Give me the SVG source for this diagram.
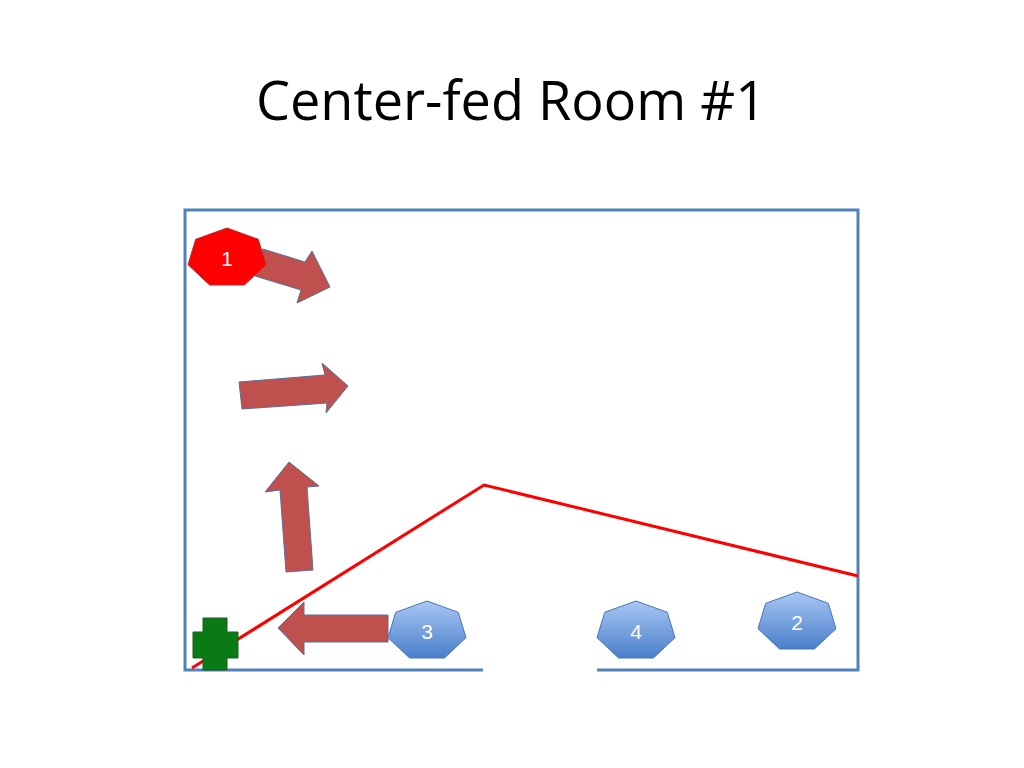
<svg xmlns="http://www.w3.org/2000/svg" width="1024" height="768" viewBox="0 0 1024 768">
<defs>
<linearGradient id="blueG" x1="0" y1="0" x2="0" y2="1">
<stop offset="0" stop-color="#a9c7f2"/>
<stop offset="1" stop-color="#4a7fcc"/>
</linearGradient>
<polygon id="hept" points="0,-30 31.3,-18.7 39,6.7 17.4,27 -17.4,27 -39,6.7 -31.3,-18.7"/>
</defs>
<style>
.wall{fill:none;stroke:#4f81bd;stroke-width:3}
.arrow{fill:#c0504d;stroke:#5a6f9a;stroke-width:1;stroke-linejoin:miter}
.bnode{fill:url(#blueG);stroke:#4a74b4;stroke-width:1}
.lbl{font-family:"Liberation Sans",Arial,sans-serif;font-size:21px;fill:#ffffff;text-anchor:middle}
.title{font-family:"Open Sans","Liberation Sans",sans-serif;font-size:54px;fill:#000000;text-anchor:middle}
</style>
<rect width="1024" height="768" fill="#ffffff"/>
<text class="title" x="511" y="120">Center-fed Room #1</text>
<g id="room">
<polyline class="wall" points="483,670 185,670 185,210 858,210 858,670 597,670"/>
</g>
<g id="connectors">
<polyline points="192,668 484,485 858,576" fill="none" stroke="#ff0000" stroke-width="3"/>
<polygon class="arrow" points="263,249 305,262 312,251 330,287 297,303 301,290 255,276"/>
<polygon class="arrow" points="239,382 325,375 322,363 348,386 326,413 327,403 242,409"/>
<polygon class="arrow" points="289,462 319,486 307,487 313,570 286,572 280,490 265,492"/>
<polygon class="arrow" points="278,628 304,602 304,615 388,615 388,642 304,642 304,655"/>
</g>
<g id="node1">
<use href="#hept" transform="translate(227,258)" fill="#ff0000" stroke="#b03030" stroke-width="1"/>
<text class="lbl" x="227" y="266">1</text>
</g>
<g id="node3">
<use href="#hept" class="bnode" transform="translate(427,631)"/>
<text class="lbl" x="427" y="639">3</text>
</g>
<g id="node4">
<use href="#hept" class="bnode" transform="translate(636,631)"/>
<text class="lbl" x="636" y="639">4</text>
</g>
<g id="node2">
<use href="#hept" class="bnode" transform="translate(797,622)"/>
<text class="lbl" x="797" y="630">2</text>
</g>
<g id="source">
<polygon points="203,618 227,618 227,632 238,632 238,658 227,658 227,670 203,670 203,658 193,658 193,632 203,632" fill="#0a7a14" stroke="#1f5a1f" stroke-width="1"/>
</g>
</svg>
